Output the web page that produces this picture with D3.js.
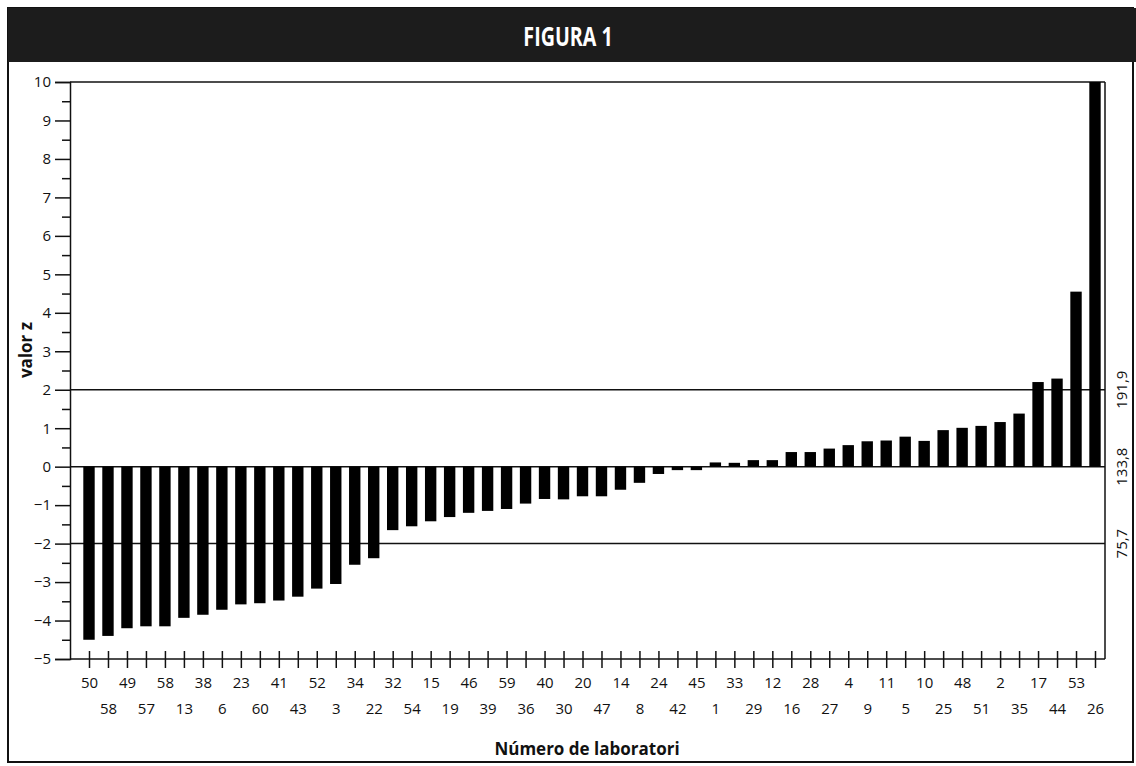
<!DOCTYPE html>
<html>
<head>
<meta charset="utf-8">
<script src="https://cdn.jsdelivr.net/npm/d3@7"></script>
<style>
  body { margin: 0; background: #fff; }
  text { font-family: "Open Sans", "Noto Sans", sans-serif; }
</style>
</head>
<body>
<svg></svg>
<script>
// Chart data
const labs = ["50", "58", "49", "57", "58", "13", "38", "6", "23", "60", "41", "43", "52", "3",
    "34", "22", "32", "54", "15", "19", "46", "39", "59", "36", "40", "30", "20", "47",
    "14", "8", "24", "42", "45", "1", "33", "29", "12", "16", "28", "27", "4", "9",
    "11", "5", "10", "25", "48", "51", "2", "35", "17", "44", "53", "26"]
const zValues = [-4.5, -4.4, -4.2, -4.15, -4.15, -3.93, -3.85, -3.72, -3.58, -3.55, -3.48, -3.38, -3.17, -3.05,
    -2.55, -2.38, -1.65, -1.55, -1.42, -1.31, -1.2, -1.15, -1.1, -0.96, -0.84, -0.85, -0.77, -0.77,
    -0.6, -0.42, -0.19, -0.09, -0.09, 0.11, 0.1, 0.17, 0.17, 0.38, 0.38, 0.47, 0.56, 0.66,
    0.68, 0.78, 0.67, 0.95, 1.01, 1.06, 1.16, 1.38, 2.2, 2.29, 4.55, 10]
const yTicks = [-5, -4, -3, -2, -1, 0, 1, 2, 3, 4, 5, 6, 7, 8, 9, 10]
const refLines = [2, 0, -2]
const refLabels = ["191,9", "133,8", "75,7"]

const width = 1136
const height = 766

const svg = d3.select("svg")
    .attr("width", width)
    .attr("height", height)

// Outer frame + title bar
svg.append("rect")
    .attr("x", 8).attr("y", 8)
    .attr("width", 1125).attr("height", 754)
    .attr("fill", "#fff")
    .attr("stroke", "#111")
    .attr("stroke-width", 2)

svg.append("rect")
    .attr("x", 8).attr("y", 8)
    .attr("width", 1128).attr("height", 54)
    .attr("fill", "#1c1c1c")

// narrow, tall title like the original's condensed face
svg.append("text")
    .text("FIGURA 1")
    .attr("transform", "translate(568, 36) scale(0.82, 1.1)")
    .attr("fill", "#fff")
    .attr("text-anchor", "middle")
    .attr("dominant-baseline", "central")
    .attr("font-size", "24px")
    .attr("font-weight", "bold")

// Scales
const plotLeft = 70
const plotRight = 1105

const xScale = d3.scalePoint()
    .domain(d3.range(labs.length))
    .range([89, 1095])

const yScale = d3.scaleLinear()
    .domain([-5, 10])
    .range([659, 82])

const barWidth = xScale.step() * 0.6

// Frame lines (top, right) and reference lines
const g = svg.append("g")

g.append("line")
    .attr("x1", plotLeft).attr("x2", plotRight)
    .attr("y1", yScale(10)).attr("y2", yScale(10))
    .attr("stroke", "#111").attr("stroke-width", 1.5)

g.append("line")
    .attr("x1", plotRight).attr("x2", plotRight)
    .attr("y1", yScale(10)).attr("y2", yScale(-5))
    .attr("stroke", "#111").attr("stroke-width", 1.5)

g.selectAll(".ref").data(refLines)
    .enter().append("line")
    .attr("class", "ref")
    .attr("x1", plotLeft).attr("x2", plotRight)
    .attr("y1", d => yScale(d)).attr("y2", d => yScale(d))
    .attr("stroke", "#111").attr("stroke-width", 1.5)

g.selectAll(".reflabel").data(refLines)
    .enter().append("text")
    .attr("class", "reflabel")
    .attr("transform", d => `translate(1121, ${yScale(d)}) rotate(-90)`)
    .attr("text-anchor", "middle")
    .attr("dominant-baseline", "central")
    .attr("font-size", "15px")
    .attr("fill", "#111")
    .text((d, i) => refLabels[i])

// Bars
g.selectAll(".bar").data(zValues)
    .enter().append("rect")
    .attr("class", "bar")
    .attr("x", (d, i) => xScale(i) - barWidth / 2)
    .attr("width", barWidth)
    .attr("y", d => yScale(Math.max(0, d)))
    .attr("height", d => Math.abs(yScale(d) - yScale(0)))
    .attr("fill", "#000")

// Y axis: major + minor ticks
const yAxis = d3.axisLeft(yScale)
    .tickValues(yTicks)
    .tickSize(15)
    .tickPadding(4)
    .tickFormat(d3.format("d"))

const yAxisG = g.append("g")
    .attr("transform", `translate(${plotLeft}, 0)`)
    .call(yAxis)

yAxisG.selectAll("text")
    .attr("font-size", "15px")
    .attr("fill", "#111")
    .style("font-family", "'Open Sans', sans-serif")
yAxisG.selectAll("line, path").attr("stroke", "#111").attr("stroke-width", 1.5)

const yMinor = g.append("g")
    .attr("transform", `translate(${plotLeft}, 0)`)
    .call(d3.axisLeft(yScale)
        .tickValues(yTicks.slice(0, -1).map(d => d + 0.5))
        .tickSize(8)
        .tickFormat(""))
yMinor.select(".domain").remove()
yMinor.selectAll("line").attr("stroke", "#111").attr("stroke-width", 1.5)

yAxisG.append("text")
    .attr("transform", `translate(${25 - plotLeft}, 350) rotate(-90)`)
    .attr("text-anchor", "middle")
    .attr("dominant-baseline", "central")
    .attr("font-size", "17px")
    .attr("font-weight", "bold")
    .attr("fill", "#111")
    .text("valor z")

// X axis with two staggered label rows
const xAxis = d3.axisBottom(xScale)
    .tickSize(9)
    .tickFormat(i => labs[i])

const xAxisG = g.append("g")
    .attr("transform", `translate(0, ${yScale(-5)})`)
    .call(xAxis)

xAxisG.select(".domain").remove()
xAxisG.append("line")
    .attr("x1", plotLeft).attr("x2", plotRight)
    .attr("stroke", "#111").attr("stroke-width", 1.5)

xAxisG.selectAll(".tick line")
    .attr("y1", -8).attr("y2", 9)
    .attr("stroke", "#111").attr("stroke-width", 1.5)

xAxisG.selectAll(".tick text")
    .attr("y", (d, i) => i % 2 === 0 ? 18 : 44)
    .attr("font-size", "15px")
    .attr("fill", "#111")
    .style("font-family", "'Open Sans', sans-serif")

svg.append("text")
    .text("Número de laboratori")
    .attr("x", 587).attr("y", 748)
    .attr("text-anchor", "middle")
    .attr("dominant-baseline", "central")
    .attr("font-size", "17px")
    .attr("font-weight", "bold")
    .attr("fill", "#111")
</script>
</body>
</html>
